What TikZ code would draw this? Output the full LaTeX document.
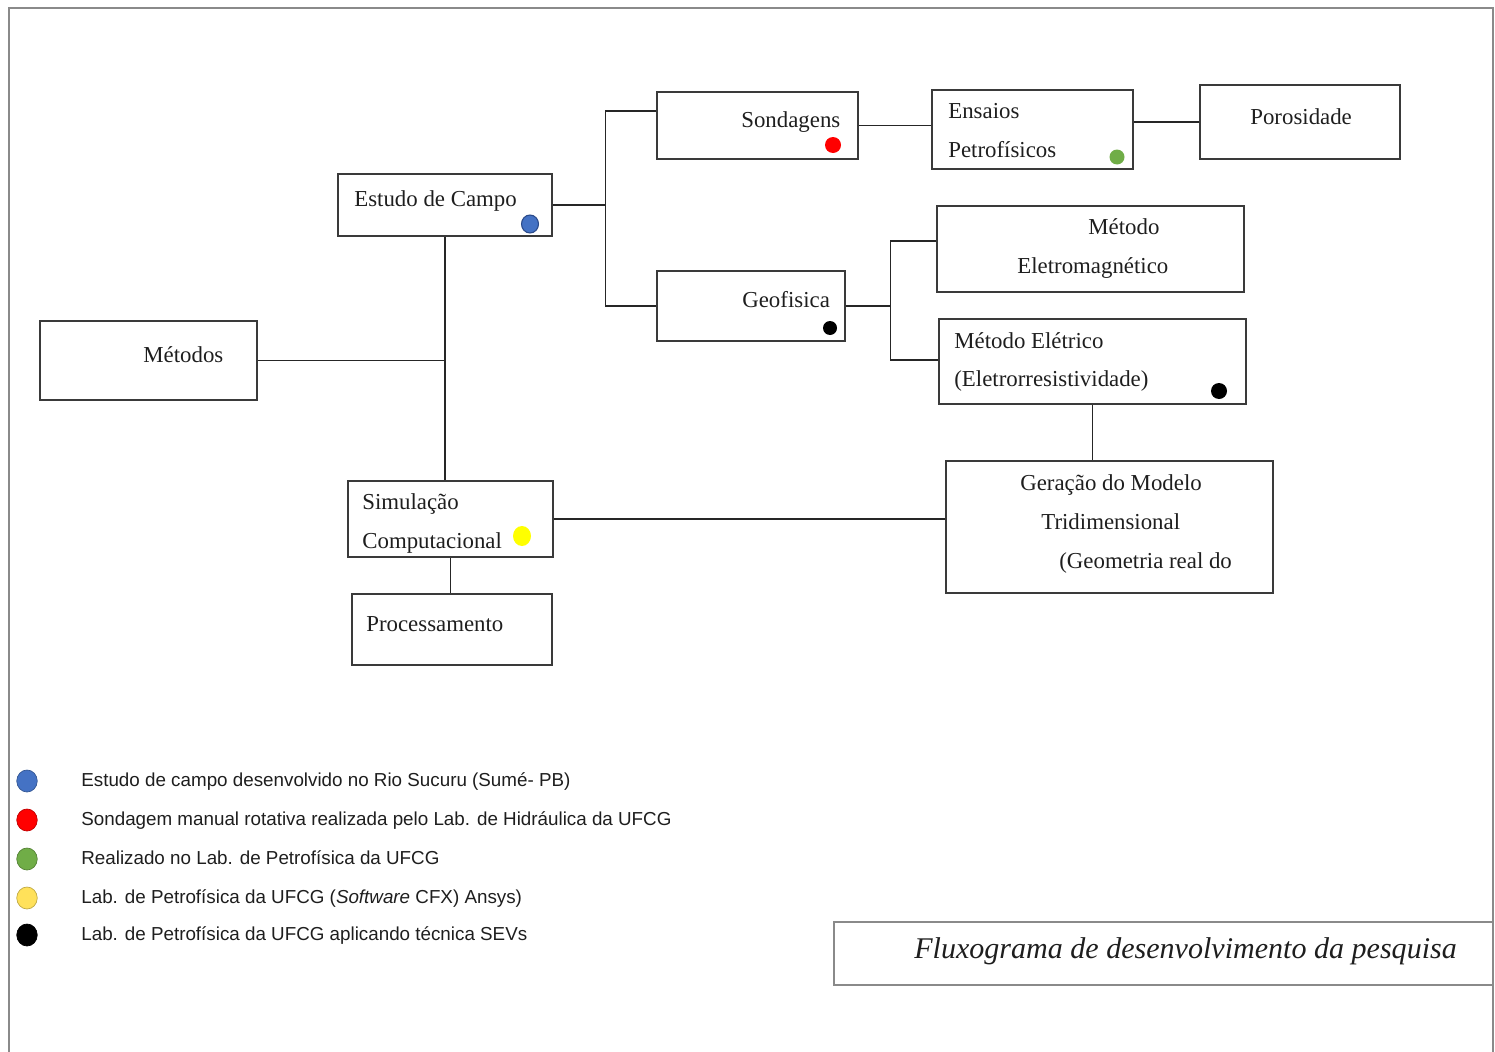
\documentclass[tikz,border=0pt]{standalone}
\usepackage{fontspec}
\setmainfont{Liberation Serif}
\newfontfamily\legfont{Liberation Sans}
\usepackage{tikz}
\usetikzlibrary{shapes.geometric,positioning,calc}
\definecolor{boxgray}{HTML}{3A3A3A}
\definecolor{framegray}{HTML}{8A8A8A}
\definecolor{txtgray}{HTML}{1E1E1E}
\definecolor{dotblue}{HTML}{4472C4}
\definecolor{dotblueline}{HTML}{2A4A8A}
\definecolor{dotred}{HTML}{FF0000}
\definecolor{dotgreen}{HTML}{70AD47}
\definecolor{dotyellow}{HTML}{FFFF00}
\definecolor{keyyellow}{HTML}{FFE15A}

\begin{document}
\begin{tikzpicture}[
    x=0.2mm, y=-0.2mm,
    box/.style={rectangle, draw=boxgray, line width=0.8pt},
    lbl/.style={anchor=base west, inner sep=0pt, text=txtgray, font=\fontsize{13}{15}\selectfont},
    legtxt/.style={anchor=base west, inner sep=0pt, text=txtgray, font=\legfont\fontsize{10.7}{13}\selectfont},
    dot/.style={ellipse, inner sep=0pt},
    link/.style={draw=black!85, line width=0.8pt}
]
    \useasboundingbox (0,0) rectangle (1495,1052);
    \draw[framegray, line width=1pt] (9,1052) -- (9,8) -- (1493,8) -- (1493,1052);

    \node[box, minimum width=43.4mm, minimum height=15.8mm] (metodos) at (148.5,360.5) {};
    \node[box, minimum width=42.8mm, minimum height=12.4mm] (campo) at (445,205) {};
    \node[box, minimum width=40.2mm, minimum height=13.4mm] (sond) at (757.5,125.5) {};
    \node[box, minimum width=40.2mm, minimum height=15.8mm] (ensaios) at (1032.5,129.5) {};
    \node[box, minimum width=40mm, minimum height=14.8mm] (poros) at (1300,122) {};
    \node[box, minimum width=37.6mm, minimum height=14mm] (geof) at (751,306) {};
    \node[box, minimum width=61.4mm, minimum height=17.2mm] (emag) at (1090.5,249) {};
    \node[box, minimum width=61.4mm, minimum height=17mm] (eletr) at (1092.5,361.5) {};
    \node[box, minimum width=65.4mm, minimum height=26.4mm] (geracao) at (1109.5,527) {};
    \node[box, minimum width=41mm, minimum height=15.2mm] (simul) at (450.5,519) {};
    \node[box, minimum width=40mm, minimum height=14.2mm] (proc) at (452,629.5) {};
    \node[box, draw=framegray, minimum width=131.8mm, minimum height=12.6mm] (titulo) at (1163.5,953.5) {};

    \node[lbl] (tmetodos) at (143,362) {Métodos};
    \node[lbl] (tcampo) at (354,206) {Estudo de Campo};
    \node[lbl] (tsond) at (741,127) {Sondagens};
    \node[lbl] (tensaios) at (948,118) {Ensaios};
    \node[lbl] (tpetro) at (948,157) {Petrofísicos};
    \node[lbl] (tporos) at (1250,124) {Porosidade};
    \node[lbl] (tgeof) at (742,307) {Geofisica};
    \node[lbl] (temag) at (1088,234) {Método};
    \node[lbl] (temag2) at (1017,273) {Eletromagnético};
    \node[lbl] (teletr) at (954,348) {Método Elétrico};
    \node[lbl] (teletr2) at (954,386) {(Eletrorresistividade)};
    \node[lbl] (tger) at (1020,490) {Geração do Modelo};
    \node[lbl] (tger2) at (1041,529) {Tridimensional};
    \node[lbl] (tger3) at (1059,568) {(Geometria real do};
    \node[lbl] (tsimul) at (362,509) {Simulação};
    \node[lbl] (tsimul2) at (362,548) {Computacional};
    \node[lbl] (tproc) at (366,631) {Processamento};
    \node[lbl, font=\itshape\fontsize{17.1}{20}\selectfont] (ttitulo) at (914,958) {Fluxograma de desenvolvimento da pesquisa};

    \node[dot, fill=dotblue, draw=dotblueline, line width=0.6pt, minimum width=3.4mm, minimum height=3.6mm] (dcampo) at (530,224) {};
    \node[dot, fill=dotred, minimum width=3.2mm, minimum height=3.2mm] (dsond) at (833,145) {};
    \node[dot, fill=dotgreen, minimum width=3mm, minimum height=3mm] (densaios) at (1117,157) {};
    \node[dot, fill=black, minimum width=2.8mm, minimum height=2.8mm] (dgeof) at (830,328) {};
    \node[dot, fill=black, minimum width=3.2mm, minimum height=3.2mm] (deletr) at (1219,391) {};
    \node[dot, fill=dotyellow, minimum width=3.6mm, minimum height=4mm] (dsimul) at (522,536) {};

    \draw[link] (campo.east) -- ++(53,0) coordinate (jcampo);
    \draw[link] (jcampo) |- ($(sond.west)+(0,-14.5)$);
    \draw[link] (jcampo) |- (geof.west);
    \draw[link] (sond.east) -- (sond.east -| ensaios.west);
    \draw[link] (poros.west) -- (poros.west -| ensaios.east);
    \draw[link] (geof.east) -- ++(45,0) coordinate (jgeof);
    \draw[link] (jgeof) |- ($(emag.west)+(0,-8)$);
    \draw[link] (jgeof) |- ($(eletr.west)+(0,-1.5)$);
    \draw[link] (metodos.east) -- (metodos.east -| campo.south);
    \draw[link] (campo.south) -- (campo.south |- simul.north);
    \draw[link] (simul.south) -- (simul.south |- proc.north);
    \draw[link] (simul.east) -- (simul.east -| geracao.west);
    \draw[link] (eletr.south) -- (eletr.south |- geracao.north);

    \foreach \n/\y/\col/\txt in {
        1/781/dotblue/{Estudo de campo desenvolvido no Rio Sucuru (Sumé- PB)},
        2/820/dotred/{Sondagem manual rotativa realizada pelo Lab. de Hidráulica da UFCG},
        3/859/dotgreen/{Realizado no Lab. de Petrofísica da UFCG},
        4/898/keyyellow/{Lab. de Petrofísica da UFCG (\textit{Software} CFX) Ansys)},
        5/935/black/{Lab. de Petrofísica da UFCG aplicando técnica SEVs}} {
        \node[dot, fill=\col, draw=\col!75!black, line width=0.4pt, minimum width=4.1mm, minimum height=4.4mm] (key\n) at (27,\y) {};
        \node[legtxt] (keytxt\n) at (81,\y+5) {\txt};
    }
\end{tikzpicture}
\end{document}
